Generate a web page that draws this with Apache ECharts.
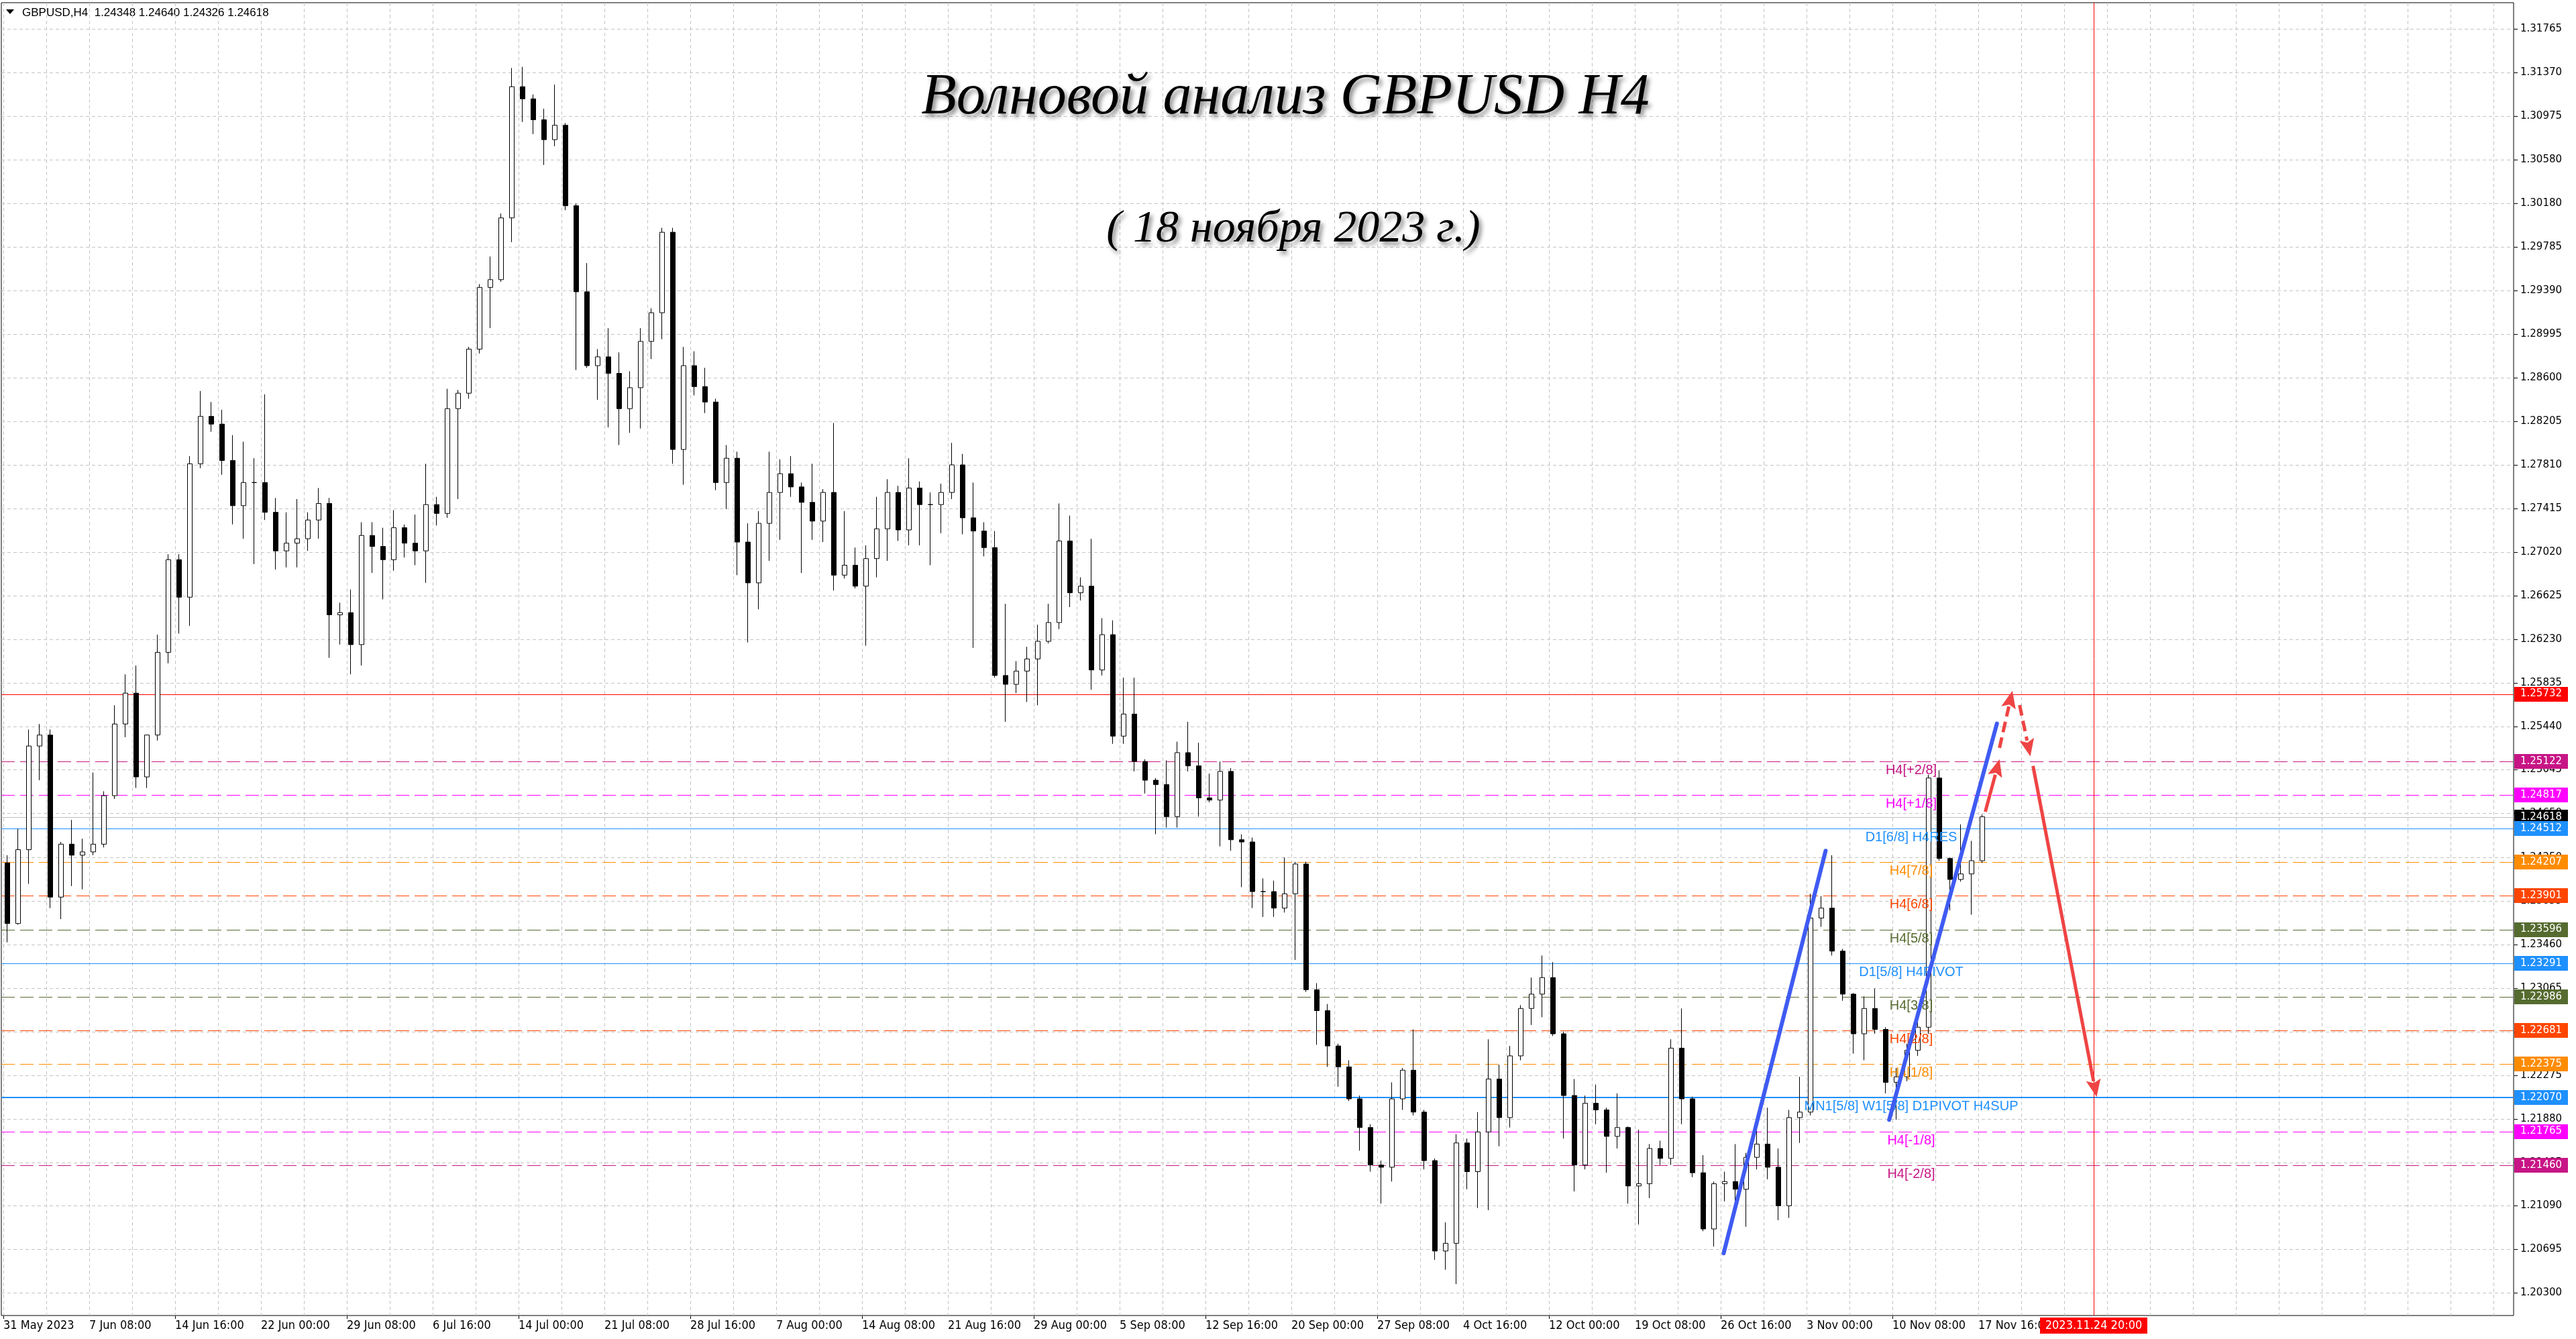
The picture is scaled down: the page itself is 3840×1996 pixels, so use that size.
<!DOCTYPE html>
<html><head><meta charset="utf-8">
<script src="https://cdn.jsdelivr.net/npm/echarts@6/dist/echarts.min.js"></script>
<style>html,body{margin:0;padding:0;background:#fff}#c{width:3840px;height:1996px}</style>
</head><body><div id="c"></div>
<script>
// ---- data (one candle = 4 H4 bars) ----
const opens = [1.2420,1.2365,1.2432,1.2526,1.2536,1.2389,1.2437,1.2427,1.2430,1.2437,1.2481,1.2546,1.2574,1.2498,1.2536,1.2611,1.2695,1.2661,1.2782,1.2825,1.2818,1.2785,1.2744,1.2765,1.2765,1.2738,1.2703,1.2710,1.2714,1.2731,1.2746,1.2645,1.2647,1.2618,1.2717,1.2707,1.2695,1.2724,1.2710,1.2703,1.2745,1.2737,1.2832,1.2846,1.2886,1.2942,1.2949,1.3005,1.3124,1.3113,1.3094,1.3076,1.3089,1.3016,1.2938,1.2871,1.2879,1.2864,1.2832,1.2851,1.2893,1.2919,1.2992,1.2795,1.2871,1.2852,1.2838,1.2765,1.2787,1.2711,1.2674,1.2728,1.2756,1.2773,1.2761,1.2747,1.2730,1.2756,1.2681,1.2690,1.2671,1.2696,1.2723,1.2756,1.2722,1.2760,1.2745,1.2745,1.2756,1.2781,1.2733,1.2721,1.2706,1.2590,1.2582,1.2594,1.2605,1.2621,1.2638,1.2712,1.2665,1.2671,1.2595,1.2627,1.2535,1.2555,1.2512,1.2495,1.2491,1.2462,1.2520,1.2508,1.2479,1.2477,1.2503,1.2441,1.2439,1.2394,1.2394,1.2379,1.2392,1.2419,1.2305,1.2286,1.2254,1.2235,1.2206,1.2180,1.2146,1.2144,1.2206,1.2232,1.2194,1.2150,1.2068,1.2075,1.2166,1.2140,1.2176,1.2224,1.2189,1.2245,1.2288,1.2301,1.2316,1.2265,1.2209,1.2146,1.2202,1.2196,1.2172,1.2180,1.2127,1.2129,1.2161,1.2152,1.2252,1.2206,1.2139,1.2088,1.2129,1.2131,1.2124,1.2153,1.2165,1.2144,1.2109,1.2189,1.2194,1.2370,1.2379,1.2340,1.2301,1.2265,1.2288,1.2269,1.2221,1.2226,1.2250,1.2271,1.2497,1.2424,1.2405,1.2410,1.2422];
const highs = [1.2427,1.2451,1.2541,1.2546,1.2541,1.2439,1.2459,1.2442,1.2502,1.2485,1.2563,1.2591,1.2599,1.2536,1.2627,1.2700,1.2700,1.2789,1.2848,1.2838,1.2831,1.2808,1.2802,1.2787,1.2845,1.2751,1.2738,1.2750,1.2738,1.2760,1.2751,1.2656,1.2668,1.2729,1.2729,1.2724,1.2740,1.2727,1.2736,1.2782,1.2752,1.2850,1.2849,1.2888,1.2945,1.2970,1.3009,1.3141,1.3142,1.3117,1.3104,1.3126,1.3091,1.3018,1.2964,1.2886,1.2905,1.2883,1.2866,1.2905,1.2923,1.2996,1.2996,1.2888,1.2884,1.2869,1.2841,1.2799,1.2793,1.2728,1.2739,1.2793,1.2786,1.2789,1.2765,1.2782,1.2759,1.2819,1.2739,1.2706,1.2708,1.2752,1.2768,1.2762,1.2787,1.2766,1.2756,1.2764,1.2801,1.2791,1.2765,1.2729,1.2721,1.2655,1.2603,1.2616,1.2636,1.2655,1.2746,1.2735,1.2679,1.2714,1.2642,1.2640,1.2588,1.2588,1.2514,1.2497,1.2513,1.2530,1.2548,1.2529,1.2501,1.2512,1.2506,1.2446,1.2443,1.2406,1.2404,1.2425,1.2421,1.2421,1.2311,1.2292,1.2256,1.2241,1.2209,1.2183,1.2150,1.2221,1.2234,1.2269,1.2196,1.2152,1.2094,1.2174,1.2170,1.2194,1.2260,1.2237,1.2254,1.2291,1.2316,1.2336,1.2330,1.2267,1.2224,1.2209,1.2219,1.2198,1.2211,1.2181,1.2178,1.2165,1.2168,1.2260,1.2288,1.2208,1.2155,1.2131,1.2140,1.2165,1.2157,1.2178,1.2198,1.2161,1.2196,1.2226,1.2392,1.2390,1.2427,1.2342,1.2302,1.2299,1.2306,1.2271,1.2234,1.2256,1.2278,1.2500,1.2504,1.2425,1.2455,1.2440,1.2464];
const lows = [1.2348,1.2364,1.2401,1.2495,1.2379,1.2369,1.2399,1.2396,1.2427,1.2434,1.2478,1.2534,1.2488,1.2488,1.2531,1.2601,1.2628,1.2635,1.2778,1.2811,1.2772,1.2727,1.2714,1.2691,1.2731,1.2686,1.2688,1.2688,1.2703,1.2714,1.2606,1.2618,1.2591,1.2599,1.2683,1.2659,1.2685,1.2697,1.2690,1.2674,1.2726,1.2733,1.2750,1.2841,1.2882,1.2905,1.2947,1.2983,1.3092,1.3081,1.3053,1.3070,1.3012,1.2867,1.2869,1.2840,1.2815,1.2799,1.2810,1.2814,1.2877,1.2895,1.2782,1.2763,1.2844,1.2828,1.2758,1.2741,1.2681,1.2620,1.2650,1.2694,1.2713,1.2752,1.2683,1.2713,1.2711,1.2667,1.2678,1.2669,1.2617,1.2679,1.2694,1.2712,1.2708,1.2708,1.2690,1.2719,1.2750,1.2718,1.2615,1.2698,1.2588,1.2548,1.2574,1.2566,1.2563,1.2619,1.2632,1.2652,1.2658,1.2577,1.2590,1.2528,1.2528,1.2503,1.2483,1.2446,1.2452,1.2452,1.2503,1.2462,1.2475,1.2435,1.2431,1.2398,1.2379,1.2371,1.2371,1.2375,1.2332,1.2303,1.2255,1.2235,1.2217,1.2204,1.2159,1.2140,1.2111,1.2131,1.2196,1.2191,1.2142,1.2060,1.2051,1.2038,1.2124,1.2107,1.2105,1.2163,1.2180,1.2241,1.2273,1.2280,1.2263,1.2170,1.2122,1.2142,1.2183,1.2139,1.2161,1.2111,1.2092,1.2116,1.2146,1.2146,1.2183,1.2135,1.2086,1.2072,1.2113,1.2113,1.2090,1.2142,1.2133,1.2096,1.2098,1.2166,1.2191,1.2362,1.2336,1.2295,1.2247,1.2241,1.2265,1.2211,1.2187,1.2222,1.2245,1.2265,1.2422,1.2377,1.2403,1.2373,1.2420];
const closes = [1.2365,1.2432,1.2526,1.2536,1.2389,1.2437,1.2427,1.2430,1.2437,1.2481,1.2546,1.2574,1.2498,1.2536,1.2611,1.2695,1.2661,1.2782,1.2825,1.2818,1.2785,1.2744,1.2765,1.2765,1.2738,1.2703,1.2710,1.2714,1.2731,1.2746,1.2645,1.2647,1.2618,1.2717,1.2707,1.2695,1.2724,1.2710,1.2703,1.2745,1.2737,1.2832,1.2846,1.2886,1.2942,1.2949,1.3005,1.3124,1.3113,1.3094,1.3076,1.3089,1.3016,1.2938,1.2871,1.2879,1.2864,1.2832,1.2851,1.2893,1.2919,1.2992,1.2795,1.2871,1.2852,1.2838,1.2765,1.2787,1.2711,1.2674,1.2728,1.2756,1.2773,1.2761,1.2747,1.2730,1.2756,1.2681,1.2690,1.2671,1.2696,1.2723,1.2756,1.2722,1.2760,1.2745,1.2745,1.2756,1.2781,1.2733,1.2721,1.2706,1.2590,1.2582,1.2594,1.2605,1.2621,1.2638,1.2712,1.2665,1.2671,1.2595,1.2627,1.2535,1.2555,1.2512,1.2495,1.2491,1.2462,1.2520,1.2508,1.2479,1.2477,1.2503,1.2441,1.2439,1.2394,1.2394,1.2379,1.2392,1.2419,1.2305,1.2286,1.2254,1.2235,1.2206,1.2180,1.2146,1.2144,1.2206,1.2232,1.2194,1.2150,1.2068,1.2075,1.2166,1.2140,1.2176,1.2224,1.2189,1.2245,1.2288,1.2301,1.2316,1.2265,1.2209,1.2146,1.2202,1.2196,1.2172,1.2180,1.2127,1.2129,1.2161,1.2152,1.2252,1.2206,1.2139,1.2088,1.2129,1.2131,1.2124,1.2153,1.2165,1.2144,1.2109,1.2189,1.2194,1.2370,1.2379,1.2340,1.2301,1.2265,1.2288,1.2269,1.2221,1.2226,1.2250,1.2271,1.2497,1.2424,1.2405,1.2410,1.2422,1.24618];

const xTickLabels = ['31 May 2023','7 Jun 08:00','14 Jun 16:00','22 Jun 00:00','29 Jun 08:00','6 Jul 16:00','14 Jul 00:00','21 Jul 08:00','28 Jul 16:00','7 Aug 00:00','14 Aug 08:00','21 Aug 16:00','29 Aug 00:00','5 Sep 08:00','12 Sep 16:00','20 Sep 00:00','27 Sep 08:00','4 Oct 16:00','12 Oct 00:00','19 Oct 08:00','26 Oct 16:00','3 Nov 00:00','10 Nov 08:00','17 Nov 16:00'];
const yTickValues = [1.31765,1.31370,1.30975,1.30580,1.30180,1.29785,1.29390,1.28995,1.28600,1.28205,1.27810,1.27415,1.27020,1.26625,1.26230,1.25835,1.25440,1.25045,1.24650,1.24250,1.23855,1.23460,1.23065,1.22670,1.22275,1.21880,1.21485,1.21090,1.20695,1.20300];

const levelValues = [1.25732,1.25122,1.24817,1.24618,1.24512,1.24207,1.23901,1.23596,1.23291,1.22986,1.22681,1.22375,1.22070,1.21765,1.21460];
const levelNames = ['','H4[+2/8]','H4[+1/8]','','D1[6/8] H4RES','H4[7/8]','H4[6/8]','H4[5/8]','D1[5/8] H4PIVOT','H4[3/8]','H4[2/8]','H4[1/8]','MN1[5/8] W1[5/8] D1PIVOT H4SUP','H4[-1/8]','H4[-2/8]'];

// trend lines and arrows: [barIndexFrom, priceFrom, barIndexTo, priceTo]
const trendLines = [[641.1,1.20659,679.1,1.24310],[702.8,1.21870,742.95,1.25464]];
const solidArrows = [[738.6,1.24663,743.9,1.25141],[756.4,1.25079,780.1,1.22077]];
const dashedArrows = [[743.9,1.25243,748.7,1.25761],[751.4,1.25632,755.4,1.25166]];

const forecastBar = 779;
const forecastLabel = '2023.11.24 20:00';
const headerSymbol = 'GBPUSD,H4';
const headerOHLC = [1.24348,1.24640,1.24326,1.24618];
const titleText = 'Волновой анализ GBPUSD H4';
const subtitleText = '( 18 ноября 2023 г.)';

// ---- styles ----
const levelBoxColors = ['#FF0000','#C71585','#FF00FF','#000000','#1E90FF','#FF8C00','#FF4500','#556B2F','#1E90FF','#556B2F','#FF4500','#FF8C00','#1E90FF','#FF00FF','#C71585'];
const levelLineColors = ['#FF0000','#C71585','#FF00FF','#C0C0C0','#1E90FF','#FF8C00','#FF4500','#556B2F','#1E90FF','#556B2F','#FF4500','#FF8C00','#1E90FF','#FF00FF','#C71585'];
const levelDashed = [false,true,true,false,false,true,true,true,false,true,true,true,false,true,true];
const levelWidths = [1,1,1,1,1,1,1,1,1,1,1,1,2,1,1];
const LEVEL_LABEL_BAR = 711;
const BARS_PER_CANDLE = 4;
const BARS_PER_LABEL = 32;
const Y_MIN = 1.20095, Y_MAX = 1.32002;
const X_MIN = -0.75, X_MAX = 935.5;
const condensed = '"DejaVu Sans Condensed","Liberation Sans Narrow","Roboto Condensed","DejaVu Sans",sans-serif';

const candles = opens.map((o, g) => [g * BARS_PER_CANDLE + 1.5, o, closes[g], lows[g], highs[g]]);
const vGrid = [];
for (let i = 0; i <= X_MAX; i += 16) vGrid.push([i, Y_MIN]);

const chart = echarts.init(document.getElementById('c'), null, {renderer: 'canvas', width: 3840, height: 1996});

// arrows drawn as custom items: shaft + triangular head at the end point
const arrowSeries = (list, dashed) => ({
  type: 'custom', z: 6, silent: true, clip: false,
  data: list.map(a => [a[0], a[1], a[2], a[3]]),
  renderItem: (params, api) => {
    const p1 = api.coord([api.value(0), api.value(1)]);
    const p2 = api.coord([api.value(2), api.value(3)]);
    const dx = p2[0] - p1[0], dy = p2[1] - p1[1];
    const len = Math.sqrt(dx * dx + dy * dy);
    const ux = dx / len, uy = dy / len;
    const headL = 26, headW = 11;
    const bx = p2[0] - ux * headL, by = p2[1] - uy * headL;
    return {type: 'group', children: [
      {type: 'line', shape: {x1: p1[0], y1: p1[1], x2: bx + ux * 2, y2: by + uy * 2}, style: {stroke: '#EF4444', lineWidth: 5, lineDash: dashed ? [16, 8] : null}},
      {type: 'polygon', shape: {points: [[p2[0], p2[1]], [bx - uy * headW, by + ux * headW], [bx + ux * 5, by + uy * 5], [bx + uy * headW, by - ux * headW]]}, style: {fill: '#EF4444'}}
    ]};
  }
});

const option = {
  animation: false,
  backgroundColor: '#ffffff',
  grid: {left: 2, right: 93, top: 4, bottom: 35, show: true, borderColor: '#000', borderWidth: 1, backgroundColor: 'transparent'},
  xAxis: {
    type: 'value', min: X_MIN, max: X_MAX,
    axisLine: {show: false},
    splitLine: {show: false},
    axisTick: {show: true, length: 5, lineStyle: {color: '#000'}, customValues: xTickLabels.map((_, k) => k * BARS_PER_LABEL).filter((v, k) => k % 2 === 0)},
    axisLabel: {
      show: true, customValues: xTickLabels.map((_, k) => k * BARS_PER_LABEL),
      formatter: v => xTickLabels[Math.round(v / BARS_PER_LABEL)] || '',
      align: 'left', margin: 6, color: '#000', fontSize: 18, fontFamily: condensed, hideOverlap: false
    }
  },
  yAxis: {type: 'value', min: Y_MIN, max: Y_MAX, show: false},
  graphic: [
    {type: 'polygon', shape: {points: [[9, 14], [21, 14], [15, 21]]}, style: {fill: '#000'}},
    {type: 'text', x: 33, y: 19, style: {text: headerSymbol + '  ' + headerOHLC.map(v => v.toFixed(5)).join(' '), fill: '#000', fontSize: 17, fontFamily: '"Liberation Sans",Arial,sans-serif', verticalAlign: 'middle', align: 'left'}},
    {type: 'text', x: 1916, y: 146, z: 50, style: {text: titleText, fill: '#000', fontSize: 86, fontStyle: 'italic', fontFamily: '"Liberation Serif","DejaVu Serif",serif', align: 'center', verticalAlign: 'middle', textShadowColor: 'rgba(0,0,0,0.45)', textShadowBlur: 6, textShadowOffsetX: 4, textShadowOffsetY: 5}},
    {type: 'text', x: 1928, y: 342, z: 50, style: {text: subtitleText, fill: '#000', fontSize: 68, fontStyle: 'italic', fontFamily: '"Liberation Serif","DejaVu Serif",serif', align: 'center', verticalAlign: 'middle', textShadowColor: 'rgba(0,0,0,0.45)', textShadowBlur: 6, textShadowOffsetX: 4, textShadowOffsetY: 5}}
  ],
  series: [
    { // horizontal grid + price scale ticks
      type: 'custom', z: 1, silent: true, clip: false,
      data: yTickValues.map(v => [0, v]),
      renderItem: (params, api) => {
        const cs = params.coordSys;
        const y = Math.round(api.coord([0, api.value(1)])[1]) + 0.5;
        const xr = cs.x + cs.width;
        return {type: 'group', children: [
          {type: 'line', shape: {x1: cs.x, y1: y, x2: xr, y2: y}, style: {stroke: '#c4c4c4', lineWidth: 1, lineDash: [5, 4]}},
          {type: 'line', shape: {x1: xr, y1: y, x2: xr + 6, y2: y}, style: {stroke: '#000', lineWidth: 1}},
          {type: 'text', x: xr + 10, y: y, style: {text: api.value(1).toFixed(5), fill: '#000', fontSize: 15, fontFamily: '"DejaVu Sans",Verdana,sans-serif', align: 'left', verticalAlign: 'middle'}}
        ]};
      }
    },
    { // vertical grid
      type: 'custom', z: 1, silent: true,
      data: vGrid,
      renderItem: (params, api) => {
        const cs = params.coordSys;
        const x = Math.round(api.coord([api.value(0), Y_MIN])[0]) + 0.5;
        return {type: 'line', shape: {x1: x, y1: cs.y, x2: x, y2: cs.y + cs.height}, style: {stroke: '#c4c4c4', lineWidth: 1, lineDash: [5, 4]}};
      }
    },
    { // level lines
      type: 'custom', z: 2, silent: true,
      data: levelValues.map((v, k) => [0, v, k]),
      renderItem: (params, api) => {
        const cs = params.coordSys;
        const k = api.value(2);
        const y = Math.round(api.coord([0, api.value(1)])[1]) + (levelWidths[k] === 2 ? 0 : 0.5);
        return {type: 'line', shape: {x1: cs.x, y1: y, x2: cs.x + cs.width, y2: y}, style: {stroke: levelLineColors[k], lineWidth: levelWidths[k], lineDash: levelDashed[k] ? [20, 8] : null}};
      }
    },
    { // forecast time vertical line
      type: 'custom', z: 2, silent: true, clip: false,
      data: [[forecastBar, Y_MIN]],
      renderItem: (params, api) => {
        const cs = params.coordSys;
        const x = Math.round(api.coord([api.value(0), Y_MIN])[0]) + 0.5;
        return {type: 'line', shape: {x1: x, y1: cs.y, x2: x, y2: cs.y + cs.height}, style: {stroke: '#FF0000', lineWidth: 1}};
      }
    },
    {
      type: 'candlestick', z: 3, silent: true, barWidth: 7,
      dimensions: ['bar', 'open', 'close', 'lowest', 'highest'],
      encode: {x: 'bar', y: ['open', 'close', 'lowest', 'highest']},
      data: candles,
      itemStyle: {color: '#ffffff', color0: '#000000', borderColor: '#000000', borderColor0: '#000000', borderColorDoji: '#000000', borderWidth: 1}
    },
    { // level names (over candles)
      type: 'custom', z: 4, silent: true,
      data: levelValues.map((v, k) => [LEVEL_LABEL_BAR, v, k]).filter((d) => levelNames[d[2]]),
      renderItem: (params, api) => {
        const k = api.value(2);
        const p = api.coord([api.value(0), api.value(1)]);
        return {type: 'text', x: p[0], y: Math.round(p[1]) + 3, style: {text: levelNames[k], fill: levelBoxColors[k], fontSize: 20, fontFamily: '"Liberation Sans",Arial,sans-serif', align: 'center', verticalAlign: 'top'}};
      }
    },
    {
      type: 'line', data: [], z: 5, silent: true,
      markLine: {
        silent: true, animation: false, symbol: ['none', 'none'], label: {show: false},
        lineStyle: {color: '#3F5BF2', width: 6, type: 'solid', cap: 'round', opacity: 1},
        emphasis: {disabled: true},
        data: trendLines.map(t => [{coord: [t[0], t[1]]}, {coord: [t[2], t[3]]}])
      }
    },
    arrowSeries(solidArrows, false),
    arrowSeries(dashedArrows, true),
    { // price boxes on the scale
      type: 'custom', z: 10, silent: true, clip: false,
      data: levelValues.map((v, k) => [0, v, k]),
      renderItem: (params, api) => {
        const cs = params.coordSys;
        const k = api.value(2);
        const y = api.coord([0, api.value(1)])[1];
        const x0 = cs.x + cs.width + 1;
        return {type: 'group', children: [
          {type: 'rect', shape: {x: x0, y: Math.round(y) - 11, width: 80, height: 22}, style: {fill: levelBoxColors[k]}},
          {type: 'text', x: x0 + 9, y: y, style: {text: api.value(1).toFixed(5), fill: '#fff', fontSize: 15, fontFamily: '"DejaVu Sans",Verdana,sans-serif', align: 'left', verticalAlign: 'middle'}}
        ]};
      }
    },
    { // forecast time box on the time scale
      type: 'custom', z: 10, silent: true, clip: false,
      data: [[forecastBar, Y_MIN]],
      renderItem: (params, api) => {
        const cs = params.coordSys;
        const x = api.coord([api.value(0), Y_MIN])[0];
        const yb = cs.y + cs.height;
        return {type: 'group', children: [
          {type: 'rect', shape: {x: Math.round(x) - 80, y: yb + 3, width: 160, height: 24}, style: {fill: '#FF0000'}},
          {type: 'text', x: x, y: yb + 15, style: {text: forecastLabel, fill: '#fff', fontSize: 18, fontFamily: condensed, align: 'center', verticalAlign: 'middle'}}
        ]};
      }
    }
  ]
};
chart.setOption(option);
</script>
</body></html>
